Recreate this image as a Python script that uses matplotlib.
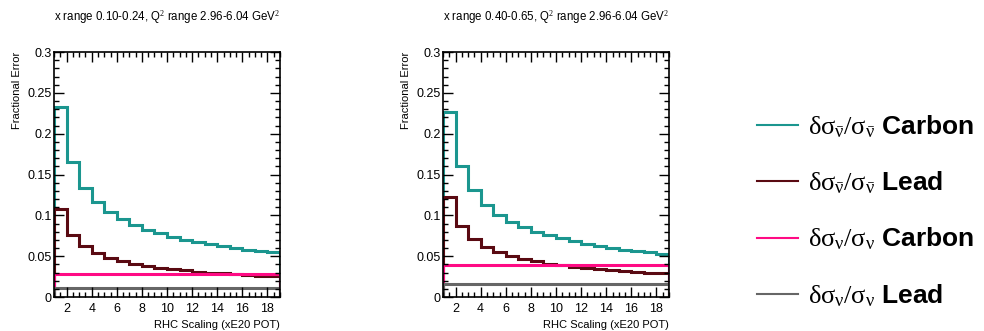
import numpy as np
import matplotlib
matplotlib.use("Agg")
import matplotlib.pyplot as plt
from matplotlib.ticker import MultipleLocator

plt.rcParams['font.family'] = ['Liberation Sans', 'DejaVu Sans']
plt.rcParams['mathtext.fontset'] = 'custom'
plt.rcParams['mathtext.rm'] = 'Liberation Serif'
plt.rcParams['mathtext.it'] = 'Liberation Serif'
plt.rcParams['mathtext.bf'] = 'Liberation Sans:bold'

# RHC exposure bins (xE20 POT)
bin_edges = np.arange(1, 20)

titles = [
    r"x range 0.10-0.24, Q$^{2}$ range 2.96-6.04 GeV$^{2}$",
    r"x range 0.40-0.65, Q$^{2}$ range 2.96-6.04 GeV$^{2}$",
]

# antineutrino fractional errors per bin
carbon_nubar = [
    [0.233, 0.165, 0.134, 0.116, 0.104, 0.095, 0.088, 0.082, 0.078,
     0.074, 0.070, 0.067, 0.065, 0.062, 0.060, 0.058, 0.056, 0.055],
    [0.227, 0.160, 0.131, 0.113, 0.101, 0.092, 0.086, 0.080, 0.0755,
     0.072, 0.068, 0.065, 0.063, 0.060, 0.058, 0.056, 0.055, 0.053],
]
lead_nubar = [
    [0.108, 0.076, 0.062, 0.054, 0.048, 0.044, 0.041, 0.038, 0.036,
     0.034, 0.0325, 0.031, 0.030, 0.029, 0.028, 0.027, 0.026, 0.0255],
    [0.123, 0.087, 0.071, 0.0615, 0.055, 0.050, 0.0465, 0.0435, 0.041,
     0.039, 0.037, 0.0355, 0.034, 0.033, 0.032, 0.031, 0.030, 0.029],
]
# neutrino fractional errors (flat in RHC scaling)
carbon_nu = [0.028, 0.039]
lead_nu = [0.011, 0.016]

labels = [
    r"$\delta\sigma_{\bar{\nu}}/\sigma_{\bar{\nu}}$ $\mathbf{Carbon}$",
    r"$\delta\sigma_{\bar{\nu}}/\sigma_{\bar{\nu}}$ $\mathbf{Lead}$",
    r"$\delta\sigma_{\nu}/\sigma_{\nu}$ $\mathbf{Carbon}$",
    r"$\delta\sigma_{\nu}/\sigma_{\nu}$ $\mathbf{Lead}$",
]
colors = ['#1b968f', '#5a0a12', '#ff0a84', '#666666']

fig = plt.figure(figsize=(9.84, 3.31), dpi=100)
lefts = [0.0549, 0.4502]

for i in range(2):
    ax = fig.add_axes([lefts[i], 0.1027, 0.2297, 0.740])
    flat_c = np.full(len(bin_edges) - 1, carbon_nu[i])
    flat_l = np.full(len(bin_edges) - 1, lead_nu[i])
    ax.stairs(carbon_nubar[i], bin_edges, color=colors[0], lw=2.2)
    ax.stairs(lead_nubar[i], bin_edges, color=colors[1], lw=2.2)
    ax.stairs(flat_c, bin_edges, color=colors[2], lw=2.2)
    ax.stairs(flat_l, bin_edges, color=colors[3], lw=2.2)

    ax.set_xlim(1, 19)
    ax.set_ylim(0, 0.3)
    ax.xaxis.set_major_locator(MultipleLocator(2))
    ax.xaxis.set_minor_locator(MultipleLocator(0.5))
    ax.yaxis.set_minor_locator(MultipleLocator(0.01))
    ax.set_yticks([0, 0.05, 0.1, 0.15, 0.2, 0.25, 0.3])
    ax.set_yticklabels(['0', '0.05', '0.1', '0.15', '0.2', '0.25', '0.3'])
    ax.tick_params(which='both', direction='in', top=True, right=True,
                   labelsize=9, width=1)
    ax.tick_params(axis='y', pad=1.5)
    ax.tick_params(axis='x', pad=4)
    ax.tick_params(which='major', length=7)
    ax.tick_params(which='minor', length=3.5)
    for s in ax.spines.values():
        s.set_linewidth(1.2)
    ax.set_xlabel("RHC Scaling (xE20 POT)", fontsize=8, loc='right', labelpad=4)
    ax.set_ylabel("Fractional Error", fontsize=8, loc='top', labelpad=4)
    ax.set_title(titles[i], fontsize=8.3, pad=23)

handles = [plt.Line2D([], [], color=c, lw=1.5) for c in colors]
fig.legend(handles, labels, loc='center left', bbox_to_anchor=(0.769, 0.3625),
           frameon=False, fontsize=19, handlelength=1.55, handletextpad=0.38,
           labelspacing=1.12, borderpad=0, borderaxespad=0)

fig.savefig("out.png", dpi=100)
